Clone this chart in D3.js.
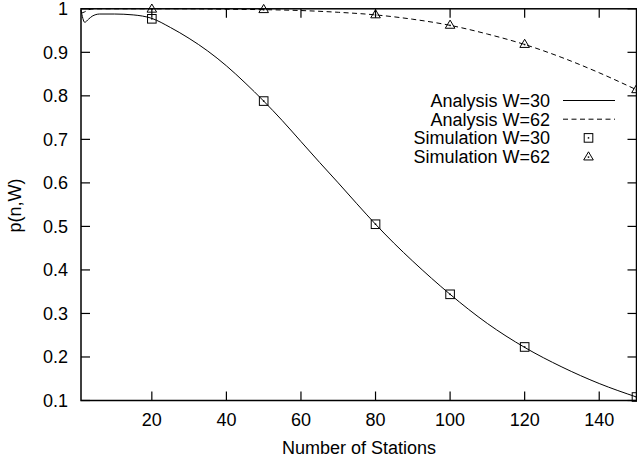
<!DOCTYPE html>
<html>
<head>
<meta charset="utf-8">
<script src="https://cdn.jsdelivr.net/npm/d3@7"></script>
<style>
  body { margin: 0; background: #fff; }
  svg { display: block; font-family: "Liberation Sans", Arial, sans-serif; }
</style>
</head>
<body>
<div id="chart"></div>
<script>
// values
const analysisN30 = [1, 2, 3, 4, 6, 10, 15, 20, 25, 30, 35, 40, 45, 50, 55, 60, 65, 70, 75, 80, 85, 90, 95, 100, 110, 120, 130, 140, 150];
const analysisP30 = [0.997, 0.969, 0.976, 0.983, 0.988, 0.988, 0.986, 0.978, 0.957, 0.932, 0.903, 0.869, 0.830, 0.788, 0.743, 0.695, 0.647, 0.600, 0.552, 0.505, 0.461, 0.420, 0.381, 0.344, 0.277, 0.222, 0.177, 0.139, 0.108];

const analysisN62 = [1, 2, 3, 5, 10, 20, 30, 40, 50, 60, 70, 80, 90, 100, 110, 120, 130, 140, 150];
const analysisP62 = [0.990, 0.993, 0.998, 1.0, 1.0, 1.0, 1.0, 0.999, 0.998, 0.996, 0.992, 0.986, 0.976, 0.962, 0.942, 0.918, 0.888, 0.853, 0.814];

const simN = [20, 50, 80, 100, 120, 150];
const simP30 = [0.977, 0.788, 0.505, 0.344, 0.223, 0.108];
const simP62 = [1.0, 0.999, 0.987, 0.963, 0.919, 0.815];

const xTicks = [20, 40, 60, 80, 100, 120, 140];
const yTicks = [0.1, 0.2, 0.3, 0.4, 0.5, 0.6, 0.7, 0.8, 0.9, 1];

const legendLabels = ["Analysis W=30", "Analysis W=62", "Simulation W=30", "Simulation W=62"];

const width = 637, height = 464;
const fontSize = 18;

const svg = d3.select("#chart").append("svg")
    .attr("width", width)
    .attr("height", height);

const x = d3.scaleLinear().domain([1, 150]).range([81, 636.5]);
const y = d3.scaleLinear().domain([0.1, 1]).range([400.5, 8.8]);

const [x0, x1] = x.range();
const [yb, yt] = y.range();
const tickLen = 9;

// ticks (mirrored on all sides, pointing inward)
const tickG = svg.append("g").attr("stroke", "#000").attr("stroke-width", 1.2);
xTicks.forEach(t => {
    tickG.append("line").attr("x1", x(t)).attr("x2", x(t)).attr("y1", yb).attr("y2", yb - tickLen);
    tickG.append("line").attr("x1", x(t)).attr("x2", x(t)).attr("y1", yt).attr("y2", yt + tickLen);
});
yTicks.forEach(t => {
    tickG.append("line").attr("x1", x0).attr("x2", x0 + tickLen).attr("y1", y(t)).attr("y2", y(t));
    tickG.append("line").attr("x1", x1).attr("x2", x1 - tickLen).attr("y1", y(t)).attr("y2", y(t));
});

// tick labels
svg.append("g").selectAll("text")
    .data(xTicks)
    .join("text")
    .attr("x", d => x(d))
    .attr("y", 426)
    .attr("text-anchor", "middle")
    .style("font-size", fontSize + "px")
    .text(d => d);

svg.append("g").selectAll("text")
    .data(yTicks)
    .join("text")
    .attr("x", 68)
    .attr("y", d => y(d))
    .attr("dy", "0.35em")
    .attr("text-anchor", "end")
    .style("font-size", fontSize + "px")
    .text(d => d === 1 ? "1" : d.toFixed(1));

// axis titles
svg.append("text")
    .attr("x", 359)
    .attr("y", 454)
    .attr("text-anchor", "middle")
    .style("font-size", fontSize + "px")
    .text("Number of Stations");

svg.append("text")
    .attr("transform", "translate(21,205.5) rotate(-90)")
    .attr("text-anchor", "middle")
    .style("font-size", fontSize + "px")
    .text("p(n,W)");

// curves
const line = d3.line()
    .x(d => x(d[0]))
    .y(d => y(d[1]))
    .curve(d3.curveMonotoneX);

svg.append("path")
    .datum(analysisN30.map((n, i) => [n, analysisP30[i]]))
    .attr("d", line)
    .attr("fill", "none")
    .attr("stroke", "#000")
    .attr("stroke-width", 1);

svg.append("path")
    .datum(analysisN62.map((n, i) => [n, analysisP62[i]]))
    .attr("d", line)
    .attr("fill", "none")
    .attr("stroke", "#000")
    .attr("stroke-width", 1)
    .attr("stroke-dasharray", "5,3.5");

// markers
const sq = 8.6;
function square(g, cx, cy) {
    g.append("rect")
        .attr("x", cx - sq / 2)
        .attr("y", cy - sq / 2)
        .attr("width", sq)
        .attr("height", sq)
        .attr("fill", "none")
        .attr("stroke", "#000")
        .attr("stroke-width", 1);
    g.append("rect")
        .attr("x", cx - 0.75)
        .attr("y", cy - 0.75)
        .attr("width", 1.5)
        .attr("height", 1.5)
        .attr("fill", "#000");
}
function triangle(g, cx, cy) {
    const s = 4.8;
    g.append("path")
        .attr("d", `M${cx},${cy - s} L${cx + s},${cy + s * 0.7} L${cx - s},${cy + s * 0.7} Z`)
        .attr("fill", "none")
        .attr("stroke", "#000")
        .attr("stroke-width", 1);
    g.append("rect")
        .attr("x", cx - 0.75)
        .attr("y", cy - 0.25)
        .attr("width", 1.5)
        .attr("height", 1.5)
        .attr("fill", "#000");
}

const markG = svg.append("g");
simN.forEach((n, i) => square(markG, x(n), y(simP30[i])));
simN.forEach((n, i) => triangle(markG, x(n), y(simP62[i])));

// border
svg.append("rect")
    .attr("x", x0)
    .attr("y", yt)
    .attr("width", x1 - x0)
    .attr("height", yb - yt)
    .attr("fill", "none")
    .attr("stroke", "#000")
    .attr("stroke-width", 1.5);

// legend
const legend = svg.append("g").attr("class", "legend");
const rowY = [100.5, 119.2, 137.9, 156.6];
legendLabels.forEach((lab, i) => {
    legend.append("text")
        .attr("x", 550)
        .attr("y", rowY[i])
        .attr("dy", "0.35em")
        .attr("text-anchor", "end")
        .style("font-size", fontSize + "px")
        .text(lab);
});
legend.append("line")
    .attr("x1", 563).attr("x2", 615)
    .attr("y1", rowY[0]).attr("y2", rowY[0])
    .attr("stroke", "#000").attr("stroke-width", 1);
legend.append("line")
    .attr("x1", 563).attr("x2", 615)
    .attr("y1", rowY[1]).attr("y2", rowY[1])
    .attr("stroke", "#000").attr("stroke-width", 1)
    .attr("stroke-dasharray", "5,3.5");
square(legend, 588.5, rowY[2]);
triangle(legend, 588.5, rowY[3]);
</script>
</body>
</html>
